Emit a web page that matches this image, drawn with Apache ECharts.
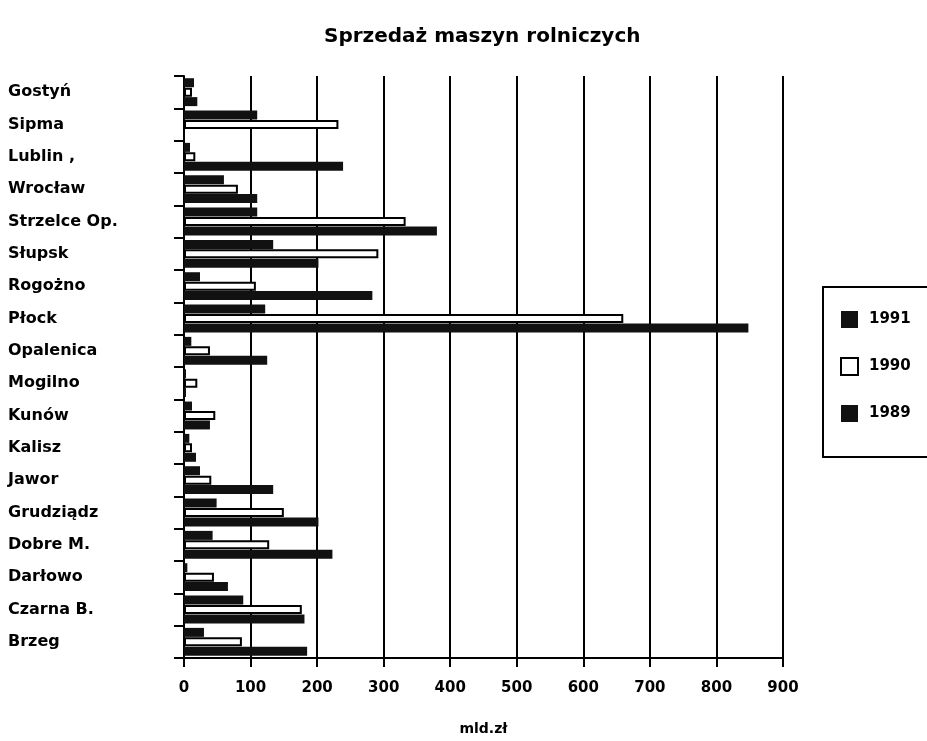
<!DOCTYPE html>
<html>
<head>
<meta charset="utf-8">
<script src="https://cdn.jsdelivr.net/npm/echarts@6/dist/echarts.min.js"></script>
<style>
html,body{margin:0;padding:0;background:#fff;}
#chart{width:927px;height:741px;}
</style>
</head>
<body>
<div id="chart"></div>
<script>
// categories listed bottom to top
var categories = ["Brzeg","Czarna B.","Darłowo","Dobre M.","Grudziądz","Jawor","Kalisz","Kunów","Mogilno","Opalenica","Płock","Rogożno","Słupsk","Strzelce Op.","Wrocław","Lublin ,","Sipma","Gostyń"];
var v1991 = [30, 89, 5, 43, 49, 24, 8, 12, 3, 11, 122, 24, 134, 110, 60, 9, 110, 15];
var v1990 = [87, 177, 45, 128, 150, 41, 12, 47, 20, 39, 660, 108, 292, 333, 81, 17, 232, 12];
var v1989 = [185, 181, 66, 223, 202, 134, 18, 39, 3, 125, 848, 283, 202, 380, 110, 239, 0, 20];
var xTicks = [0,100,200,300,400,500,600,700,800,900];

var FONT = "DejaVu Sans";
var chart = echarts.init(document.getElementById('chart'));
chart.setOption({
  backgroundColor: '#fff',
  animation: false,
  title: {
    text: 'Sprzedaż maszyn rolniczych',
    left: 319, top: 22,
    textStyle: {fontFamily: FONT, fontWeight: 'bold', fontSize: 20, color: '#000'}
  },
  legend: {
    orient: 'vertical',
    left: 823, top: 287,
    width: 110,
    data: ['1991','1990','1989'],
    icon: 'rect',
    itemWidth: 17, itemHeight: 17,
    itemGap: 29,
    padding: [24, 30, 35, 17],
    borderColor: '#000', borderWidth: 2,
    textStyle: {fontFamily: FONT, fontWeight: 'bold', fontSize: 15, color: '#000', padding: [0, 0, 0, 6]}
  },
  grid: {left: 184, right: 144, top: 76, bottom: 83, containLabel: false},
  xAxis: {
    type: 'value', min: 0, max: 900, interval: 100,
    name: 'mld.zł', nameLocation: 'middle', nameGap: 64,
    nameTextStyle: {fontFamily: FONT, fontWeight: 'bold', fontSize: 14, color: '#000'},
    axisLine: {show: true, lineStyle: {color: '#000', width: 2}},
    axisTick: {show: true, length: 9, lineStyle: {color: '#000', width: 2}},
    axisLabel: {margin: 23, fontFamily: FONT, fontWeight: 'bold', fontSize: 15, color: '#000',
      formatter: function(v){ return xTicks.indexOf(v) >= 0 ? String(v) : ''; }},
    splitLine: {show: true, lineStyle: {color: '#000', width: 2}}
  },
  yAxis: {
    type: 'category', data: categories,
    axisLine: {show: true, lineStyle: {color: '#000', width: 2}},
    axisTick: {show: true, length: 10, lineStyle: {color: '#000', width: 2}},
    axisLabel: {margin: 176, align: 'left', fontFamily: FONT, fontWeight: 'bold', fontSize: 16, color: '#000'},
    splitLine: {show: false}
  },
  series: [
    {name: '1991', type: 'bar', data: v1991, barWidth: 9, barGap: '5%',
     itemStyle: {color: '#111'}},
    {name: '1990', type: 'bar', data: v1990, barWidth: 9, barGap: '5%',
     itemStyle: {color: '#fff', borderColor: '#000', borderWidth: 2}},
    {name: '1989', type: 'bar', data: v1989, barWidth: 9, barGap: '5%',
     itemStyle: {color: '#111'}}
  ]
});
</script>
</body>
</html>
